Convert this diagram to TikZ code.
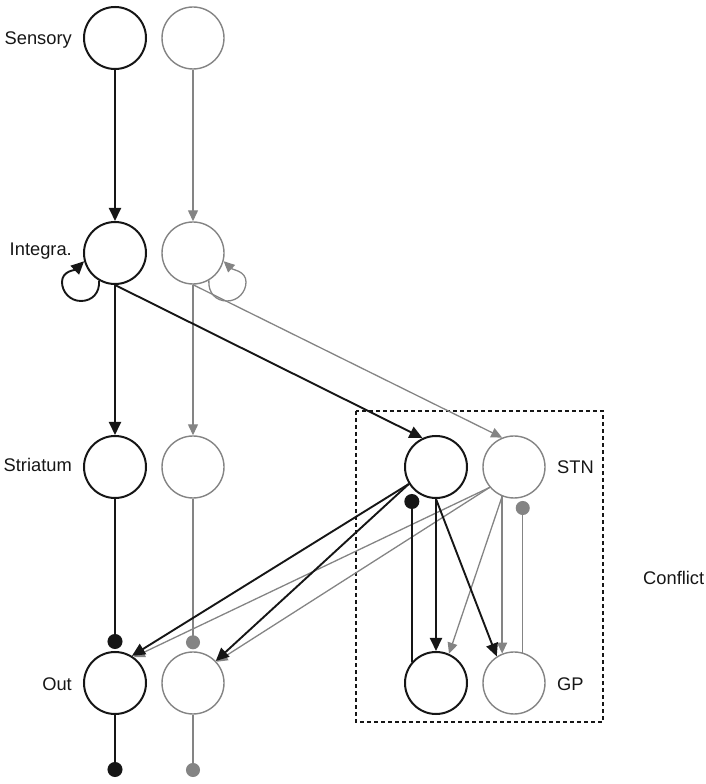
\documentclass[tikz,border=0pt]{standalone}
\usepackage{fontspec}
\setmainfont{Liberation Sans}
\usetikzlibrary{arrows.meta}
\definecolor{ink}{RGB}{22,22,22}
\definecolor{pale}{RGB}{132,132,132}
\begin{document}
\begin{tikzpicture}[x=1bp,y=1bp,
  bnode/.style={circle,draw=ink,line width=2bp,minimum size=62bp,inner sep=0pt,fill=white},
  gnode/.style={circle,draw=pale,line width=1.4bp,minimum size=62bp,inner sep=0pt,fill=white},
  blk/.style={draw=ink,line width=1.9bp},
  gry/.style={draw=pale,line width=1.3bp},
  barrow/.style={blk,-{Triangle[length=13bp,width=12bp]}},
  garrow/.style={gry,-{Triangle[length=11bp,width=10bp]}},
  bdot/.style={blk,-{Circle[length=15bp,width=15bp]}},
  gdot/.style={gry,-{Circle[length=14bp,width=14bp]}},
  lab/.style={font=\fontsize{18.3bp}{21bp}\selectfont,text=ink,inner sep=0pt},
  frame/.style={draw=ink,line width=1.8bp,dash pattern=on 4bp off 3bp}
]
\useasboundingbox (0,0) rectangle (706,784);

% dashed conflict frame
\draw[frame] (356,373) rectangle (603,62);

% nodes
\node[bnode] (s1) at (115,746) {};
\node[gnode] (s2) at (193,746) {};
\node[bnode] (i1) at (115,531) {};
\node[gnode] (i2) at (193,531) {};
\node[bnode] (t1) at (115,317) {};
\node[gnode] (t2) at (193,317) {};
\node[bnode] (o1) at (115,101) {};
\node[gnode] (o2) at (193,101) {};
\node[bnode] (n1) at (436,317) {};
\node[gnode] (n2) at (514,317) {};
\node[bnode] (g1) at (436,101) {};
\node[gnode] (g2) at (514,101) {};

% labels
\node[lab,anchor=base east] (ls) at (72,739.5) {Sensory};
\node[lab,anchor=base east] (li) at (72,528) {Integra.};
\node[lab,anchor=base east] (lt) at (72,312.5) {Striatum};
\node[lab,anchor=base east] (lo) at (72,93.5) {Out};
\node[lab,anchor=base west] (ln) at (557,310.5) {STN};
\node[lab,anchor=base west] (lg) at (557,93.5) {GP};
\node[lab,anchor=base west] (lc) at (643,199.5) {Conflict};

% free ends
\coordinate (e1) at (115,7);
\coordinate (e2) at (193,7);
\coordinate (d1) at (412,290);
\coordinate (d2) at (523,283);

% gray connectors (drawn first)
\draw[garrow] (s2) -- (i2);
\draw[garrow] (i2) -- (t2);
\draw[garrow] (i2.300) .. controls (208,491) and (216,483) .. (227,483)
  .. controls (238,483) and (246,492) .. (246,502)
  .. controls (246,513) and (233,514) .. (i2.345);
\draw[garrow] (i2.south) -- (n2.112);
\draw[gdot] (t2) -- ([yshift=2bp]o2.north);
\draw[gdot] (o2) -- (e2);
\draw[garrow] (n2.220) -- (o1.54);
\draw[garrow] (n2.220) -- (o2.42);
\draw[garrow] (n2.248) -- (g2.112);
\draw[garrow] (n2.248) -- (g1.66);
\draw[gdot] (g2.74) -- (g2.74 |- d2);

% black connectors
\draw[barrow] (s1) -- (i1);
\draw[barrow] (i1) -- (t1);
\draw[barrow] (i1.240) .. controls (100,491) and (92,483) .. (81,483)
  .. controls (70,483) and (62,492) .. (62,502)
  .. controls (62,513) and (75,514) .. (i1.195);
\draw[barrow] (i1.south) -- (n1.115);
\draw[bdot] (t1) -- ([yshift=2bp]o1.north);
\draw[bdot] (o1) -- (e1);
\draw[barrow] (n1.212) -- (o1.58);
\draw[barrow] (n1.212) -- (o2.44);
\draw[barrow] (n1.south) -- (g1.north);
\draw[barrow] (n1.south) -- (g2.123);
\draw[bdot] (g1.139) -- (g1.139 |- d1);
\end{tikzpicture}
\end{document}
